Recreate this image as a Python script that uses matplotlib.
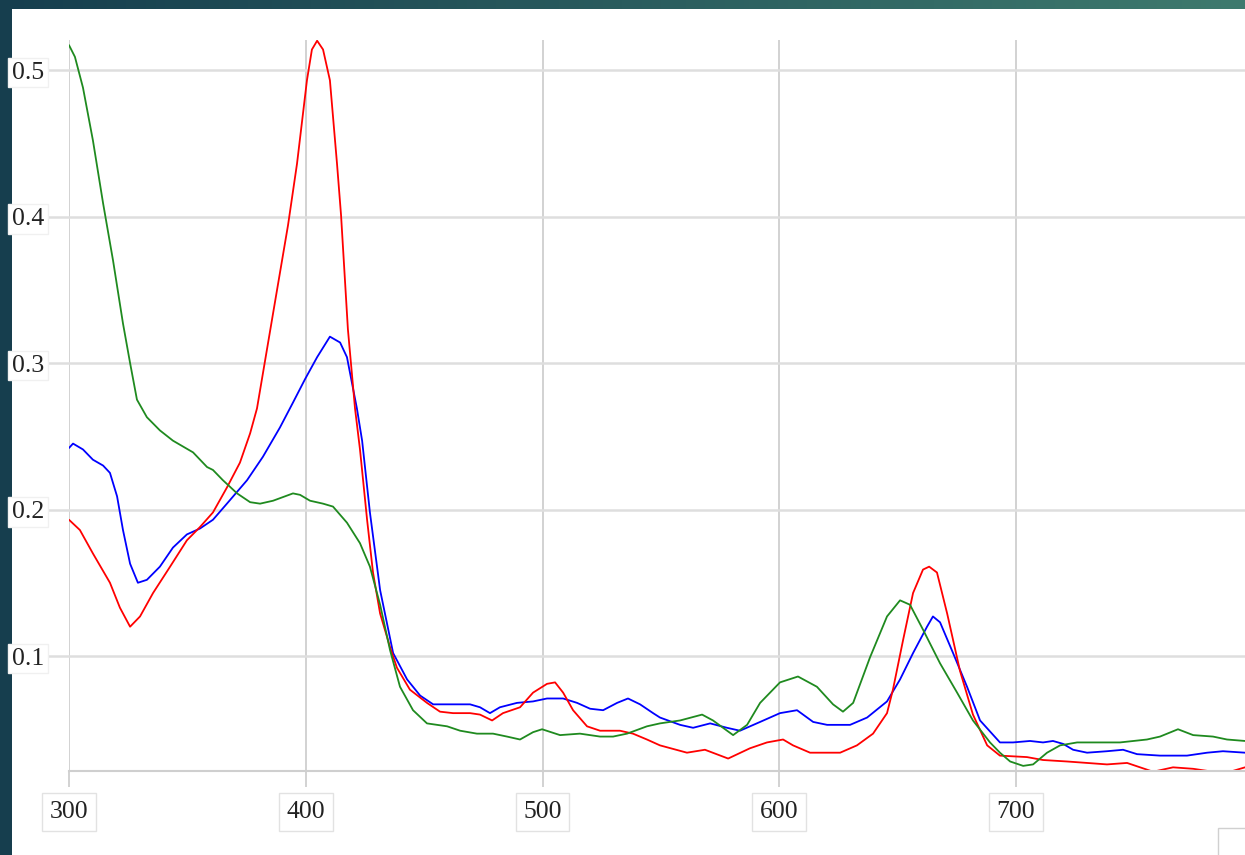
import numpy as np
import matplotlib
matplotlib.use("Agg")
import matplotlib.pyplot as plt
from matplotlib.patches import Rectangle

# wavelength (nm) / absorbance
green_x = [300, 302.5, 305.9, 310.1, 314.4, 318.6, 322.8, 325.8, 328.7, 332.9, 338.4, 343.9,
           352.4, 358.3, 360.8, 365.0, 371.0, 376.5, 380.7, 386.2, 394.6, 397.6, 401.8, 407.3,
           411.5, 417.4, 422.9, 427.1, 431.4, 435.6, 439.8, 445.3, 451.2, 459.7, 465.2, 472.3,
           479.1, 485.0, 490.5, 496.0, 499.8, 507.4, 515.8, 524.3, 529.8, 535.7, 544.1, 549.6,
           558.1, 567.4, 572.0, 580.5, 586.4, 591.9, 600.3, 607.9, 615.9, 622.7, 626.9, 631.2,
           638.3, 645.5, 651.0, 655.2, 660.7, 667.9, 675.1, 681.8, 689.0, 693.2, 697.5, 703.0,
           707.2, 713.1, 718.6, 725.8, 735.5, 743.9, 755.3, 760.8, 768.4, 774.8, 783.2, 789.1, 796.7]
green_y = [0.517, 0.509, 0.488, 0.452, 0.409, 0.370, 0.327, 0.300, 0.275, 0.263, 0.254, 0.247,
           0.239, 0.229, 0.227, 0.220, 0.211, 0.205, 0.204, 0.206, 0.211, 0.210, 0.206, 0.204,
           0.202, 0.191, 0.177, 0.161, 0.135, 0.104, 0.079, 0.063, 0.054, 0.052, 0.049, 0.047,
           0.047, 0.045, 0.043, 0.048, 0.050, 0.046, 0.047, 0.045, 0.045, 0.047, 0.052, 0.054,
           0.056, 0.060, 0.056, 0.046, 0.053, 0.068, 0.082, 0.086, 0.079, 0.067, 0.062, 0.068,
           0.099, 0.127, 0.138, 0.135, 0.118, 0.095, 0.075, 0.056, 0.041, 0.034, 0.028, 0.025,
           0.026, 0.034, 0.039, 0.041, 0.041, 0.041, 0.043, 0.045, 0.050, 0.046, 0.045, 0.043, 0.042]

red_x = [300, 304.6, 310.1, 317.3, 321.5, 325.8, 330.0, 335.5, 342.7, 349.8, 355.3, 360.8,
         366.7, 372.2, 376.5, 379.4, 386.2, 392.5, 396.3, 400.5, 402.6, 404.8, 407.3, 410.2,
         413.2, 414.9, 417.8, 420.8, 422.9, 425.9, 428.4, 431.4, 435.6, 438.5, 444.0, 451.2,
         456.7, 462.2, 469.4, 473.6, 478.7, 483.3, 490.5, 496.0, 501.9, 505.3, 508.7, 512.9,
         518.8, 524.3, 532.7, 538.2, 544.1, 549.6, 561.0, 568.6, 578.4, 587.6, 594.8, 601.6,
         605.8, 613.0, 625.7, 632.8, 639.6, 645.5, 648.0, 652.3, 656.5, 660.7, 663.3, 666.6,
         670.9, 676.3, 681.8, 687.8, 693.2, 704.6, 711.4, 721.5, 730.0, 738.4, 746.9, 752.4,
         757.9, 766.3, 774.8, 783.2, 790.4, 796.7]
red_y = [0.193, 0.186, 0.170, 0.150, 0.133, 0.120, 0.127, 0.143, 0.161, 0.179, 0.188, 0.198,
         0.215, 0.232, 0.252, 0.269, 0.334, 0.394, 0.436, 0.493, 0.514, 0.520, 0.514, 0.493,
         0.436, 0.401, 0.323, 0.269, 0.241, 0.193, 0.157, 0.129, 0.106, 0.092, 0.077, 0.068,
         0.062, 0.061, 0.061, 0.060, 0.056, 0.061, 0.065, 0.075, 0.081, 0.082, 0.075, 0.063,
         0.052, 0.049, 0.049, 0.047, 0.043, 0.039, 0.034, 0.036, 0.030, 0.037, 0.041, 0.043,
         0.039, 0.034, 0.034, 0.039, 0.047, 0.061, 0.077, 0.111, 0.143, 0.159, 0.161, 0.157,
         0.129, 0.090, 0.060, 0.039, 0.032, 0.031, 0.029, 0.028, 0.027, 0.026, 0.027, 0.024,
         0.021, 0.024, 0.023, 0.021, 0.021, 0.024]

blue_x = [300, 301.7, 305.9, 310.1, 314.4, 317.3, 320.3, 322.8, 325.8, 329.1, 332.9, 338.4,
          343.9, 349.8, 355.3, 360.8, 366.7, 375.2, 381.9, 389.1, 394.6, 399.7, 404.8, 410.2,
          414.5, 417.4, 421.6, 423.8, 427.1, 431.4, 436.9, 442.8, 448.3, 453.8, 462.2, 469.4,
          473.6, 477.8, 482.0, 489.2, 496.0, 501.9, 508.7, 514.6, 520.1, 525.6, 531.5, 536.1,
          541.2, 546.7, 549.6, 558.1, 563.6, 570.8, 577.9, 583.4, 591.9, 600.3, 607.5, 614.3,
          620.2, 629.9, 637.1, 645.5, 651.0, 656.5, 662.4, 664.9, 667.9, 673.4, 679.3, 684.8,
          693.2, 698.7, 705.9, 711.4, 715.6, 719.9, 724.1, 730.0, 738.4, 745.2, 751.1, 760.8,
          772.2, 780.7, 787.4, 796.7]
blue_y = [0.242, 0.245, 0.241, 0.234, 0.230, 0.225, 0.209, 0.186, 0.163, 0.150, 0.152, 0.161,
          0.174, 0.183, 0.187, 0.193, 0.204, 0.220, 0.236, 0.256, 0.273, 0.289, 0.304, 0.318,
          0.314, 0.304, 0.269, 0.247, 0.198, 0.145, 0.102, 0.084, 0.073, 0.067, 0.067, 0.067,
          0.065, 0.061, 0.065, 0.068, 0.069, 0.071, 0.071, 0.068, 0.064, 0.063, 0.068, 0.071,
          0.067, 0.061, 0.058, 0.053, 0.051, 0.054, 0.051, 0.049, 0.055, 0.061, 0.063, 0.055,
          0.053, 0.053, 0.058, 0.069, 0.084, 0.102, 0.120, 0.127, 0.123, 0.102, 0.079, 0.056,
          0.041, 0.041, 0.042, 0.041, 0.042, 0.040, 0.036, 0.034, 0.035, 0.036, 0.033, 0.032,
          0.032, 0.034, 0.035, 0.034]

x_ticks = [300, 400, 500, 600, 700]
y_ticks = [0.1, 0.2, 0.3, 0.4, 0.5]

W, H = 1245, 855
fig = plt.figure(figsize=(W / 100, H / 100), dpi=100)

# dark slide background with white card
bg = fig.add_axes([0, 0, 1, 1])
grad = np.linspace(0, 1, 256)
c0 = np.array([22, 62, 78]) / 255
c1 = np.array([62, 122, 110]) / 255
img = c0[None, None, :] * (1 - grad[None, :, None]) + c1[None, None, :] * grad[None, :, None]
img = np.repeat(img, 4, axis=0)
bg.imshow(img, extent=[0, 1, 0, 1], aspect="auto")
bg.add_patch(Rectangle((12 / W, 0), 1, 1 - 9 / H, transform=bg.transAxes,
                       facecolor="white", edgecolor="none"))
bg.add_patch(Rectangle((1218 / W, -0.01), 0.05, 27 / H + 0.01, transform=bg.transAxes,
                       facecolor="white", edgecolor="#d0d0d0", lw=1))
bg.set_xlim(0, 1)
bg.set_ylim(0, 1)
bg.axis("off")

ax = fig.add_axes([69 / W, 1 - 771 / H, (W - 69) / W, (771 - 40) / H])
ax.set_facecolor("none")

lkw = dict(lw=1.3, solid_joinstyle="round", solid_capstyle="round")
ax.plot(blue_x, blue_y, color="#0000ff", **lkw)
ax.plot(red_x, red_y, color="#ff0000", **lkw)
ax.plot(green_x, green_y, color="#1f8a1f", **lkw)

ax.set_xlim(300, 796.7)
ax.set_ylim(0.0215, 0.5205)
ax.set_xticks(x_ticks)
ax.set_yticks(y_ticks)
ax.set_yticklabels([f"{v:.1f}" for v in y_ticks])

ax.grid(axis="y", color="#dedede", lw=1.8)
ax.grid(axis="x", color="#d2d2d2", lw=1.4)
ax.set_axisbelow(True)
for s in ["top", "right", "left"]:
    ax.spines[s].set_visible(False)
ax.spines["bottom"].set_color("#cfcfcf")
ax.spines["bottom"].set_linewidth(1.5)

ax.tick_params(axis="y", length=17, width=1.8, color="#dedede", pad=1,
               labelsize=18.5, labelcolor="#222222")
ax.tick_params(axis="x", length=11.5, width=1.4, color="#d2d2d2", pad=10,
               labelsize=18.5, labelcolor="#222222")
for lab in ax.get_xticklabels() + ax.get_yticklabels():
    lab.set_fontfamily("Liberation Serif")
for lab in ax.get_xticklabels():
    lab.set_bbox(dict(boxstyle="square,pad=0.3", fc="white", ec="#e2e2e2", lw=1))
for lab in ax.get_yticklabels():
    lab.set_bbox(dict(boxstyle="square,pad=0.15", fc="white", ec="#f0f0f0", lw=1))

fig.savefig("out.png", dpi=100)
